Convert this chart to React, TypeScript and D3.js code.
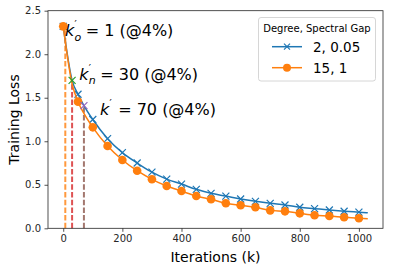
import React, { useEffect, useRef } from "react";
import * as d3 from "d3";

// marker iterations (every 50k)
const markerIters = [0, 50, 100, 150, 200, 250, 300, 350, 400, 450, 500, 550, 600, 650, 700, 750, 800, 850, 900, 950, 1000];
const blueMarkers = [2.32, 1.54, 1.25, 1.03, 0.87, 0.75, 0.645, 0.565, 0.508, 0.448, 0.402, 0.37, 0.337, 0.31, 0.287, 0.268, 0.242, 0.226, 0.21, 0.196, 0.185];
const orangeMarkers = [2.32, 1.455, 1.16, 0.945, 0.785, 0.662, 0.563, 0.486, 0.428, 0.371, 0.333, 0.288, 0.264, 0.241, 0.206, 0.195, 0.172, 0.15, 0.141, 0.127, 0.116];

// extra line points (between markers / line end)
const extraIters = [30, 70, 1030];
const blueExtra = [1.7, 1.41, 0.178];
const orangeExtra = [1.66, 1.32, 0.11];

const seriesNames = ["2, 0.05", "15, 1"];
const seriesColors = ["#1f77b4", "#ff7f0e"];

// annotations: iteration, loss at dash top, label
const annIters = [7, 30, 70];
const annLoss = [2.3, 1.7, 1.41];
const annColors = ["#ff7f0e", "#d62728", "#8c564b"];
const annCross = ["", "#2ca02c", "#9467bd"];
const annSub = ["o", "n", ""];
const annValue = ["1", "30", "70"];
const annTextIter = [5.7, 54, 124];
const annTextLoss = [2.206, 1.707, 1.298];

const yTicks = [0, 0.5, 1, 1.5, 2, 2.5];
const xTicks = [0, 200, 400, 600, 800, 1000];

const W = 393;
const H = 270;
const m = { left: 48, right: 383, top: 10.7, bottom: 228.3 };

const App: React.FC = () => {
  const svgRef = useRef<SVGSVGElement | null>(null);

  useEffect(() => {
    const svg = d3.select(svgRef.current);
    svg.selectAll("*").remove();
    const font = "DejaVu Sans, sans-serif";

    const x = d3.scaleLinear().domain([-51.5, 1081.5]).range([m.left, m.right]);
    const y = d3.scaleLinear().domain([0, 2.5]).range([m.bottom, m.top]);

    const build = (mk: number[], ex: number[]) =>
      markerIters
        .map((it, i) => ({ it, v: mk[i] }))
        .concat(extraIters.map((it, i) => ({ it, v: ex[i] })))
        .sort((a, b) => a.it - b.it);

    const lineData = [build(blueMarkers, blueExtra), build(orangeMarkers, orangeExtra)];
    const markers = [blueMarkers, orangeMarkers];

    // dashed verticals
    annIters.forEach((it, i) => {
      svg
        .append("line")
        .attr("x1", x(it))
        .attr("x2", x(it))
        .attr("y1", y(0))
        .attr("y2", y(annLoss[i]))
        .attr("stroke", annColors[i])
        .attr("stroke-opacity", 0.8)
        .attr("stroke-width", 2)
        .attr("stroke-dasharray", "5.5,2.2");
    });

    const line = d3
      .line<{ it: number; v: number }>()
      .x((d) => x(d.it))
      .y((d) => y(d.v))
      .curve(d3.curveMonotoneX);

    const cross = (g: any, cx: number, cy: number, color: string, s = 3.5) => {
      g.append("path")
        .attr("d", `M${cx - s},${cy - s}L${cx + s},${cy + s}M${cx - s},${cy + s}L${cx + s},${cy - s}`)
        .attr("stroke", color)
        .attr("stroke-width", 1.2)
        .attr("fill", "none");
    };

    lineData.forEach((ld, si) => {
      const g = svg.append("g");
      g.append("path")
        .datum(ld)
        .attr("d", line)
        .attr("fill", "none")
        .attr("stroke", seriesColors[si])
        .attr("stroke-width", 1.5);
      markerIters.forEach((it, i) => {
        if (si === 0) cross(g, x(it), y(markers[si][i]), seriesColors[si]);
        else
          g.append("circle")
            .attr("cx", x(it))
            .attr("cy", y(markers[si][i]))
            .attr("r", 4.3)
            .attr("fill", seriesColors[si]);
      });
    });

    // annotation crosses
    const ag = svg.append("g");
    annIters.forEach((it, i) => {
      if (annCross[i]) cross(ag, x(it), y(annLoss[i]), annCross[i]);
    });

    // annotation labels: k with prime, optional subscript, then "= n (@4%)"
    annIters.forEach((_, i) => {
      const g = svg
        .append("g")
        .attr("transform", `translate(${x(annTextIter[i])},${y(annTextLoss[i])})`)
        .attr("font-family", font)
        .attr("fill", "#000");
      const k = g.append("text").attr("font-size", 16).attr("font-style", "italic").text("k");
      const kw = (k.node() as SVGTextElement).getComputedTextLength();
      g.append("text").attr("x", kw + 0.3).attr("y", -8).attr("font-size", 10).text("′");
      let restX = 18.3;
      if (annSub[i]) {
        const sub = g
          .append("text")
          .attr("x", kw + 0.3)
          .attr("y", 4.4)
          .attr("font-size", 11)
          .attr("font-style", "italic")
          .text(annSub[i]);
        const w = (sub.node() as SVGTextElement).getComputedTextLength();
        restX = kw + 0.3 + w + 4.5;
      }
      g.append("text").attr("x", restX).attr("font-size", 16).text(`= ${annValue[i]} (@4%)`);
    });

    // axes
    const xa = svg
      .append("g")
      .attr("transform", `translate(0,${m.bottom})`)
      .call(d3.axisBottom(x).tickValues(xTicks).tickSize(3.5).tickPadding(3.5).tickFormat(d3.format("d")));
    const ya = svg
      .append("g")
      .attr("transform", `translate(${m.left},0)`)
      .call(d3.axisLeft(y).tickValues(yTicks).tickSize(3.5).tickPadding(3.5).tickFormat(d3.format(".1f")));
    [xa, ya].forEach((a) => {
      a.select(".domain").remove();
      a.selectAll("text").attr("font-family", font).attr("font-size", 10).attr("fill", "#262626");
      a.selectAll("line").attr("stroke", "#262626").attr("stroke-width", 0.8);
    });

    // frame
    svg
      .append("rect")
      .attr("x", m.left)
      .attr("y", m.top)
      .attr("width", m.right - m.left)
      .attr("height", m.bottom - m.top)
      .attr("fill", "none")
      .attr("stroke", "#262626")
      .attr("stroke-width", 0.8);

    // axis labels
    svg
      .append("text")
      .attr("x", (m.left + m.right) / 2)
      .attr("y", 262)
      .attr("text-anchor", "middle")
      .attr("font-family", font)
      .attr("font-size", 14)
      .text("Iterations (k)");
    svg
      .append("text")
      .attr("transform", `translate(19,${(m.top + m.bottom) / 2}) rotate(-90)`)
      .attr("text-anchor", "middle")
      .attr("font-family", font)
      .attr("font-size", 14)
      .text("Training Loss");

    // legend
    const lg = svg.append("g").attr("transform", "translate(258.5,17.5)");
    lg.append("rect")
      .attr("width", 117)
      .attr("height", 63.5)
      .attr("rx", 2.5)
      .attr("fill", "#fff")
      .attr("fill-opacity", 0.8)
      .attr("stroke", "#ccc")
      .attr("stroke-width", 0.8);
    lg.append("text")
      .attr("x", 58.5)
      .attr("y", 14)
      .attr("text-anchor", "middle")
      .attr("font-family", font)
      .attr("font-size", 10)
      .text("Degree, Spectral Gap");
    seriesNames.forEach((name, i) => {
      const cy = 29.2 + i * 21;
      lg.append("line")
        .attr("x1", 13.5)
        .attr("x2", 43.5)
        .attr("y1", cy)
        .attr("y2", cy)
        .attr("stroke", seriesColors[i])
        .attr("stroke-width", 1.5);
      if (i === 0) cross(lg, 28.5, cy, seriesColors[i], 3);
      else lg.append("circle").attr("cx", 28.5).attr("cy", cy).attr("r", 4).attr("fill", seriesColors[i]);
      lg.append("text")
        .attr("x", 54.5)
        .attr("y", cy + 5)
        .attr("font-family", font)
        .attr("font-size", 13.5)
        .text(name);
    });
  }, []);

  return (
    <svg
      ref={svgRef}
      width={W}
      height={H}
      viewBox={`0 0 ${W} ${H}`}
      style={{ position: "absolute", left: 0, top: 0, background: "#fff" }}
    />
  );
};

export default App;
